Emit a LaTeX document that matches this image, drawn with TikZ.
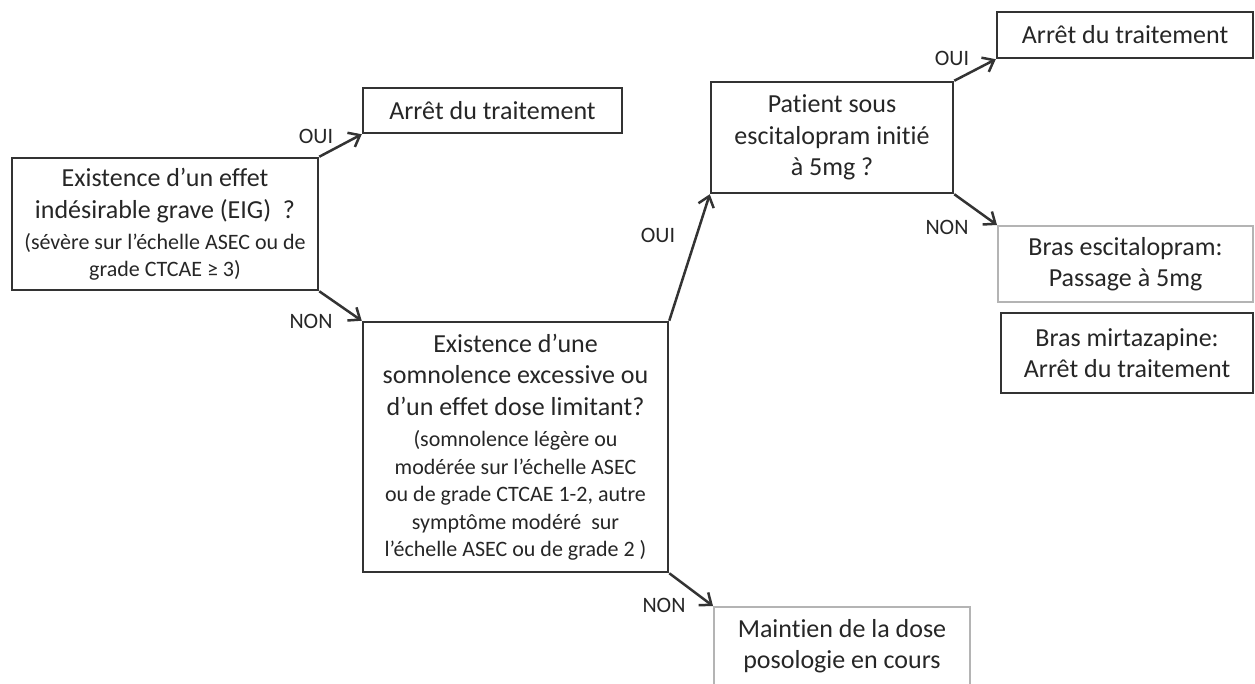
\documentclass[tikz,border=0pt]{standalone}
\usepackage{fontspec}
\setmainfont{Carlito}[Ligatures={NoCommon}]
\usetikzlibrary{arrows.meta}

\definecolor{txtcol}{HTML}{262626}
\definecolor{linecol}{HTML}{333333}
\definecolor{greycol}{HTML}{B4B4B4}
\newcommand\bigtxt{\fontsize{26}{31.5}\selectfont}
\newcommand\smalltxt{\fontsize{22}{26}\selectfont}

\tikzset{
  box/.style={draw=linecol, line width=2.5pt, align=center, inner sep=0pt,
    font=\bigtxt, text=txtcol},
  greybox/.style={box, draw=greycol, line width=2pt},
  lbl/.style={font=\fontsize{22}{26}\selectfont, text=txtcol, inner sep=0pt},
  link/.style={draw=linecol, line width=2.5pt,
    -{Straight Barb[length=10pt,width=16pt]}}
}

\begin{document}
\begin{tikzpicture}[x=1pt,y=-1pt]
\clip (0,0) rectangle (1255,684);

% questions
\node[box, minimum width=306, minimum height=132] (eig) at (165,224)
  {Existence d’un effet\\
   indésirable grave (EIG)~ ?\\
   \smalltxt (sévère sur l’échelle ASEC ou de\\[-5pt]
   \smalltxt grade CTCAE ≥ 3)};
\node[box, minimum width=305, minimum height=250] (somno) at (515.5,447)
  {Existence d’une\\
   somnolence excessive ou\\
   d’un effet dose limitant?\\
   \smalltxt (somnolence légère ou\\[-4pt]
   \smalltxt modérée sur l’échelle ASEC\\[-4pt]
   \smalltxt ou de grade CTCAE 1-2, autre\\[-4pt]
   \smalltxt symptôme modéré~ sur\\[-4pt]
   \smalltxt l’échelle ASEC ou de grade 2 )};
\node[box, minimum width=242, minimum height=111] (patient) at (832,137.5)
  {Patient sous\\ escitalopram initié\\ à 5mg ?};

% outcomes
\node[box, minimum width=259, minimum height=45] (stop1) at (492.5,110.5)
  {Arrêt du traitement};
\node[box, minimum width=256, minimum height=46] (stop2) at (1125,35)
  {Arrêt du traitement};
\node[greybox, minimum width=255, minimum height=76] (escit) at (1125.5,264)
  {Bras escitalopram:\\ Passage à 5mg};
\node[box, minimum width=252, minimum height=80] (mirta) at (1127,353)
  {Bras mirtazapine:\\ Arrêt du traitement};
\node[greybox, minimum width=256, minimum height=78] (maint) at (842,646)
  {Maintien de la dose\\ posologie en cours};

% answers
\node[lbl] (oui1) at (316,136) {OUI};
\node[lbl] (non1) at (311,321) {NON};
\node[lbl] (oui2) at (658,235) {OUI};
\node[lbl] (oui3) at (952,58) {OUI};
\node[lbl] (non2) at (947,227) {NON};
\node[lbl] (non3) at (664,605) {NON};

\draw[link] (eig.north east) -- (stop1.south west);
\draw[link] (eig.south east) -- (somno.north west);
\draw[link] (somno.north east) -- (patient.south west);
\draw[link] (patient.north east) -- (stop2.south west);
\draw[link] (patient.south east) -- (escit.north west);
\draw[link] (somno.south east) -- (maint.north west);
\end{tikzpicture}
\end{document}
